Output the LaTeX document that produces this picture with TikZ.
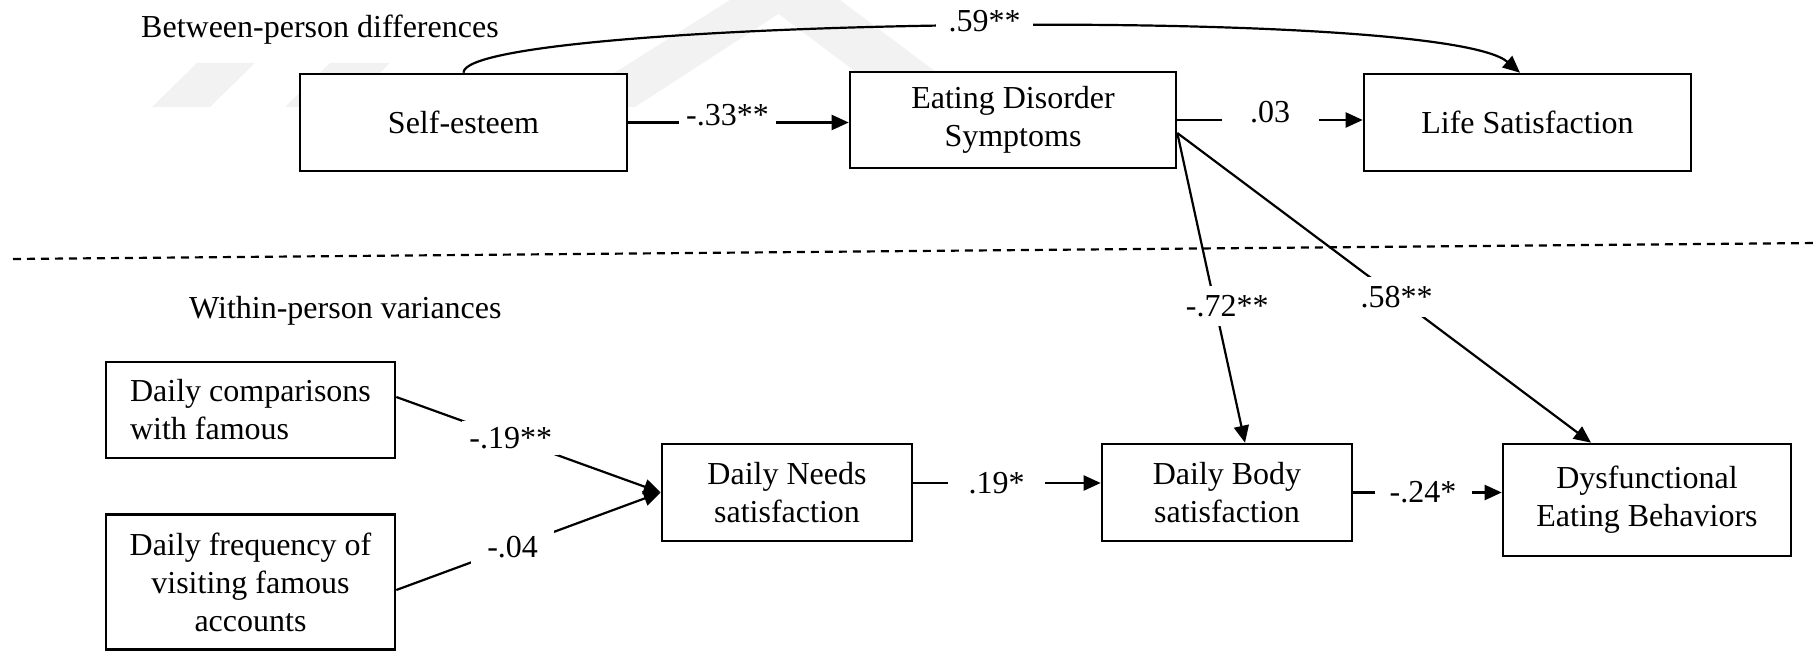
\documentclass[tikz,border=0pt]{standalone}
\usepackage{fontspec}
\setmainfont{Liberation Serif}
\usetikzlibrary{arrows.meta}
\begin{document}
\begin{tikzpicture}[x=1pt,y=-1pt,
  every node/.style={font=\fontsize{32}{38}\selectfont},
  box/.style={draw,line width=2.6pt,fill=white,inner sep=0pt,align=center},
  conn/.style={line width=2.2pt,-{Triangle[length=17pt,width=15pt]}},
  hlabel/.style={fill=white,inner sep=0pt,minimum width=97pt,minimum height=30pt},
  dlabel/.style={fill=white,inner xsep=2pt,inner ysep=0pt,minimum height=40pt},
  wm/.style={fill=black!5,draw=none}]
\useasboundingbox (0,0) rectangle (1818,652);
% faint watermark
\fill[wm] (152,107) -- (210,107) -- (255,63) -- (197,63) -- cycle;
\fill[wm] (285,107) -- (345,107) -- (390,63) -- (330,63) -- cycle;
\fill[wm] (730,0) -- (800,0) -- (635,107) -- (560,107) -- cycle;
\fill[wm] (760,0) -- (840,0) -- (1040,150) -- (960,150) -- cycle;
% section titles
\node[anchor=base west,inner sep=0pt] (t1) at (141,38) {Between-person differences};
\node[anchor=base west,inner sep=0pt] (t2) at (189,319) {Within-person variances};
% divider
\coordinate (dl) at (13,259);
\coordinate (dr) at (1818,243);
\draw[line width=2.2pt,dash pattern=on 8pt off 6pt] (dl) -- (dr);
% boxes
\node[box,minimum width=327pt,minimum height=97pt] (self) at (463.5,122.5) {Self-esteem};
\node[box,minimum width=326pt,minimum height=96pt] (ed) at (1013,120) {Eating Disorder\\Symptoms};
\node[box,minimum width=327pt,minimum height=97pt] (life) at (1527.5,122.5) {Life Satisfaction};
\node[box,align=left,minimum width=289pt,minimum height=96pt] (comp) at (250.5,410) {Daily comparisons\\with famous};
\node[box,minimum width=289pt,minimum height=135pt] (freq) at (250.5,582) {Daily frequency of\\visiting famous\\accounts};
\node[box,minimum width=250pt,minimum height=97pt] (needs) at (787,492.5) {Daily Needs\\satisfaction};
\node[box,minimum width=250pt,minimum height=97pt] (body) at (1227,492.5) {Daily Body\\satisfaction};
\node[box,minimum width=288pt,minimum height=112pt] (dysf) at (1647,500) {Dysfunctional\\Eating Behaviors};
% connectors
\draw[conn] (self.north) .. controls +(0,-54) and +(-80,-69) .. ([xshift=-7.5pt]life.north)
  node[hlabel,pos=0.515,yshift=5pt] {.59**};
\draw[conn] (self.east) -- (self.east -| ed.west)
  node[hlabel,pos=0.45,yshift=7pt] {-.33**};
\draw[conn] (ed.east) -- (ed.east -| life.west)
  node[hlabel,pos=0.5,yshift=8pt] {.03};
\coordinate (edout) at ([yshift=-13pt]ed.east);
\draw[conn] (edout) -- ([xshift=18pt]body.north)
  node[dlabel,pos=0.56,xshift=12pt] {-.72**};
\draw[conn] (edout) -- ([xshift=-56pt]dysf.north)
  node[dlabel,pos=0.53] {.58**};
\draw[conn] ([yshift=13pt]comp.east) -- (needs.west)
  node[hlabel,pos=0.433,minimum height=34pt] {-.19**};
\draw[conn] ([yshift=-8pt]freq.east) -- (needs.west)
  node[hlabel,pos=0.44,minimum width=83pt,minimum height=34pt] {-.04};
\coordinate (nb) at ([yshift=9.5pt]needs.east);
\draw[conn] (nb) -- (nb -| body.west)
  node[hlabel,pos=0.445] {.19*};
\draw[conn] (body.east) -- (body.east -| dysf.west)
  node[hlabel,pos=0.47] {-.24*};
\end{tikzpicture}
\end{document}
